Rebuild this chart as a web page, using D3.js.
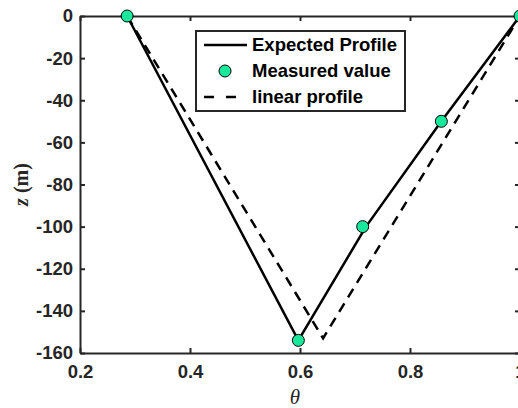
<!DOCTYPE html>
<html>
<head>
<meta charset="utf-8">
<script src="https://cdn.jsdelivr.net/npm/d3@7"></script>
<style>
  body { margin: 0; background: #fff; }
  svg { display: block; }
</style>
</head>
<body>
<figure id="chart" style="margin:0"></figure>
<script>
// data
const expectedTheta = [0.2857, 0.597, 0.72, 0.857, 1.0]
const expectedZ = [0, -154, -100, -50, 0]
const measuredTheta = [0.2857, 0.597, 0.714, 0.857, 1.0]
const measuredZ = [0, -154, -100, -50, 0]
const linearTheta = [0.2857, 0.642, 1.0]
const linearZ = [0, -153, 0]
const xTicks = [0.2, 0.4, 0.6, 0.8, 1]
const yTicks = [0, -20, -40, -60, -80, -100, -120, -140, -160]
const legendLabels = ["Expected Profile", "Measured value", "linear profile"]

const W = 518, H = 408
const margin = { top: 16, left: 80, right: -2, bottom: 55 }
const axisColor = "#262626"
const markerColor = "#17e89c"

const svg = d3.select("#chart").append("svg")
  .attr("width", W).attr("height", H)

const x = d3.scaleLinear().domain([0.2, 1]).range([margin.left, W - margin.right])
const y = d3.scaleLinear().domain([-160, 0]).range([H - margin.bottom, margin.top])

const tickFont = "'Liberation Sans', Arial, sans-serif"

// axes (ticks point inward, box on)
svg.append("g").attr("transform", `translate(0,${y(-160)})`)
  .call(d3.axisBottom(x).tickValues(xTicks).tickSizeInner(-5).tickSizeOuter(0).tickPadding(12).tickFormat(d => String(d)))
svg.append("g").attr("transform", `translate(0,${y(0)})`)
  .call(d3.axisTop(x).tickValues(xTicks).tickSizeInner(-5).tickSizeOuter(0).tickFormat(""))
svg.append("g").attr("transform", `translate(${x(0.2)},0)`)
  .call(d3.axisLeft(y).tickValues(yTicks).tickSizeInner(-5).tickSizeOuter(0).tickPadding(7).tickFormat(d => String(d)))
svg.append("g").attr("transform", `translate(${x(1)},0)`)
  .call(d3.axisRight(y).tickValues(yTicks).tickSizeInner(-5).tickSizeOuter(0).tickFormat(""))

svg.selectAll(".domain").attr("stroke", axisColor).attr("stroke-width", 2)
svg.selectAll(".tick line").attr("stroke", axisColor).attr("stroke-width", 2)
svg.selectAll(".tick text")
  .attr("fill", axisColor)
  .style("font-family", tickFont)
  .style("font-size", "18.5px")
  .style("font-weight", "bold")

// axis labels
svg.append("text")
  .attr("x", (x(0.2) + x(1)) / 2 - 5).attr("y", 404)
  .attr("text-anchor", "middle")
  .style("font-family", "'Liberation Serif', 'Times New Roman', serif")
  .style("font-style", "italic")
  .style("font-size", "21px")
  .attr("fill", axisColor)
  .text("θ")

svg.append("text")
  .attr("transform", `translate(28,${(y(0) + y(-160)) / 2}) rotate(-90)`)
  .attr("text-anchor", "middle")
  .style("font-family", "'Liberation Serif', 'Times New Roman', serif")
  .style("font-size", "20px")
  .style("font-weight", "bold")
  .attr("fill", axisColor)
  .call(t => {
    t.append("tspan").style("font-style", "italic").text("z")
    t.append("tspan").text(" (m)")
  })

// lines
const line = d3.line().x(d => x(d[0])).y(d => y(d[1]))

svg.append("path")
  .datum(linearTheta.map((t, i) => [t, linearZ[i]]))
  .attr("fill", "none").attr("stroke", "#000").attr("stroke-width", 2.5)
  .attr("stroke-dasharray", "10,7")
  .attr("d", line)

svg.append("path")
  .datum(expectedTheta.map((t, i) => [t, expectedZ[i]]))
  .attr("fill", "none").attr("stroke", "#000").attr("stroke-width", 2.5)
  .attr("d", line)

svg.selectAll("circle.m")
  .data(measuredTheta.map((t, i) => [t, measuredZ[i]]))
  .enter().append("circle").attr("class", "m")
  .attr("cx", d => x(d[0])).attr("cy", d => y(d[1]))
  .attr("r", 6)
  .attr("fill", markerColor).attr("stroke", "#000").attr("stroke-width", 1)

// legend
const lg = svg.append("g").attr("transform", "translate(196,31)")
lg.append("rect").attr("width", 209).attr("height", 80)
  .attr("fill", "#fff").attr("stroke", axisColor).attr("stroke-width", 2)

const rows = [14, 40, 66]
legendLabels.forEach((label, i) => {
  const ry = rows[i]
  if (i === 0) {
    lg.append("line").attr("x1", 8).attr("x2", 51).attr("y1", ry).attr("y2", ry)
      .attr("stroke", "#000").attr("stroke-width", 2.5)
  } else if (i === 1) {
    lg.append("circle").attr("cx", 29).attr("cy", ry).attr("r", 6)
      .attr("fill", markerColor).attr("stroke", "#000").attr("stroke-width", 1)
  } else {
    lg.append("line").attr("x1", 8).attr("x2", 40).attr("y1", ry).attr("y2", ry)
      .attr("stroke", "#000").attr("stroke-width", 2.5).attr("stroke-dasharray", "10,12")
  }
  lg.append("text").attr("x", 56).attr("y", ry).attr("dy", "0.35em")
    .style("font-family", tickFont)
    .style("font-size", "18.5px")
    .style("font-weight", "bold")
    .attr("fill", "#000")
    .text(label)
})
</script>
</body>
</html>
